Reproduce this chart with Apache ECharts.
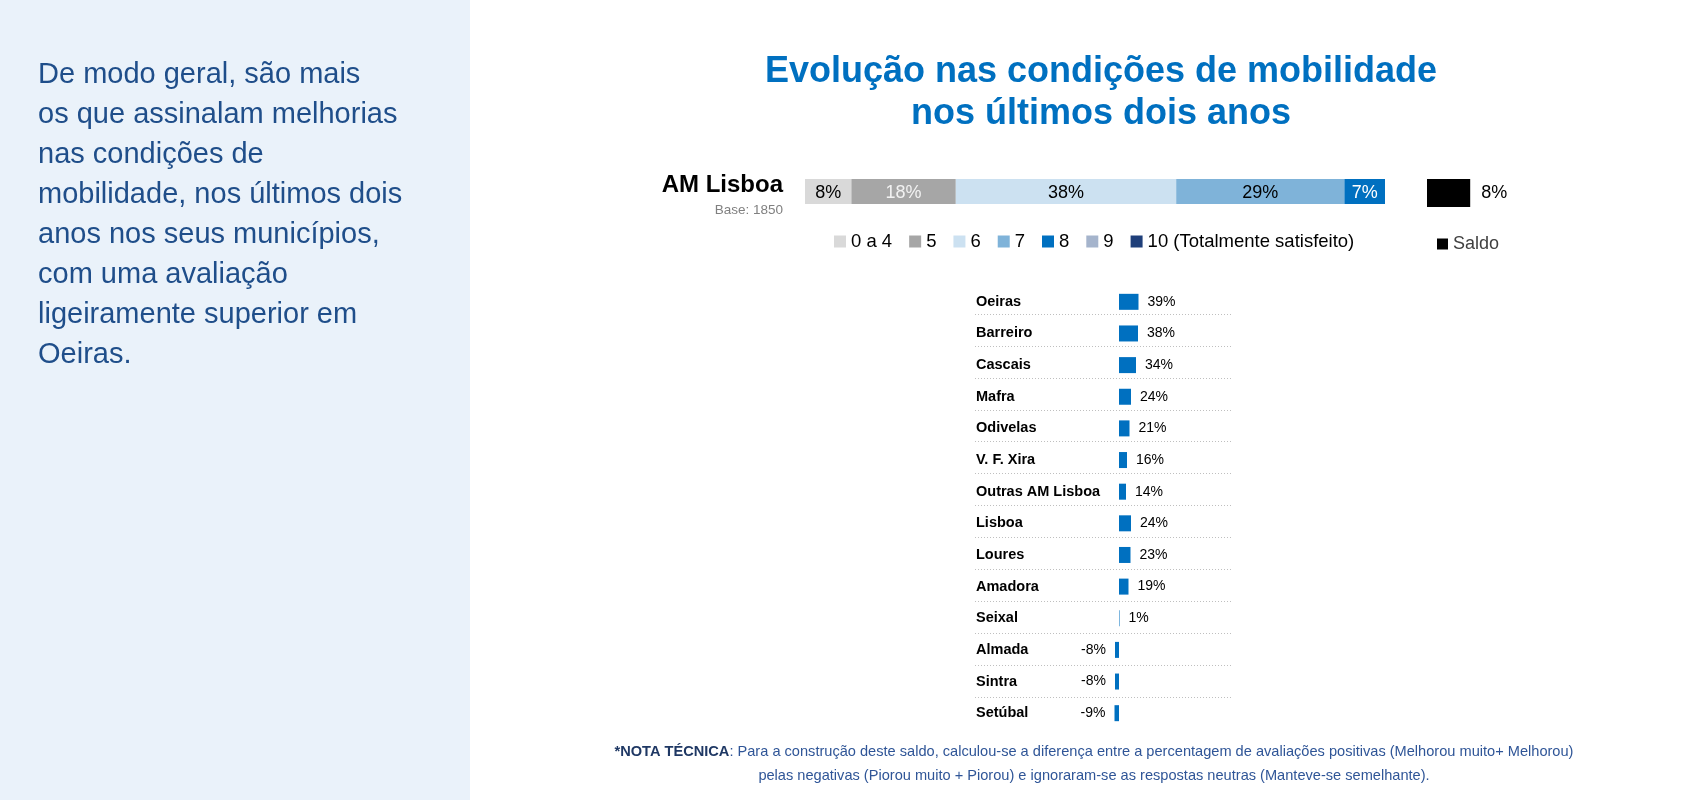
<!DOCTYPE html>
<html><head><meta charset="utf-8">
<script src="https://cdn.jsdelivr.net/npm/echarts@6/dist/echarts.min.js"></script>
<style>html,body{margin:0;padding:0;background:#fff}#c{width:1697px;height:800px}</style>
</head><body><div id="c"></div>
<script>
const chartTitle = 'Evolução nas condições de mobilidade\nnos últimos dois anos';
const sideText = 'De modo geral, são mais\nos que assinalam melhorias\nnas condições de\nmobilidade, nos últimos dois\nanos nos seus municípios,\ncom uma avaliação\nligeiramente superior em\nOeiras.';
const regionName = 'AM Lisboa';
const regionBase = 'Base: 1850';
const scoreCategories = ['0 a 4', '5', '6', '7', '8', '9', '10 (Totalmente satisfeito)'];
const scoreValues = [8, 18, 38, 29, 7, 0, 0];
const saldoName = 'Saldo';
const saldoRegion = 8;
const municipalities = ['Oeiras', 'Barreiro', 'Cascais', 'Mafra', 'Odivelas', 'V. F. Xira', 'Outras AM Lisboa', 'Lisboa', 'Loures', 'Amadora', 'Seixal', 'Almada', 'Sintra', 'Setúbal'];
const saldoMunicipalities = [39, 38, 34, 24, 21, 16, 14, 24, 23, 19, 1, -8, -8, -9];
const noteBold = '*NOTA TÉCNICA';
const noteLine1 = ': Para a construção deste saldo, calculou-se a diferença entre a percentagem de avaliações positivas (Melhorou muito+ Melhorou)';
const noteLine2 = 'pelas negativas (Piorou muito + Piorou) e ignoraram-se as respostas neutras (Manteve-se semelhante).';

const FONT = '"Liberation Sans", Arial, sans-serif';
const scoreColors = ['#D9D9D9', '#A6A6A6', '#CCE1F1', '#7FB3D9', '#0070C0', '#A5B4CC', '#1F3F7A'];
const scoreLabelColors = ['#000', '#F2F2F2', '#000', '#000', '#FFF', '#000', '#FFF'];

const chart = echarts.init(document.getElementById('c'));

const series = scoreCategories.map((name, i) => ({
  name, type: 'bar', stack: 'dist', xAxisIndex: 0, yAxisIndex: 0, barWidth: 25,
  data: [scoreValues[i]],
  itemStyle: { color: scoreColors[i] },
  label: { show: scoreValues[i] > 0, position: 'inside', offset: [0, 2], formatter: '{c}%', fontSize: 18, fontFamily: FONT, color: scoreLabelColors[i] }
}));
series.push({
  name: saldoName, type: 'bar', xAxisIndex: 1, yAxisIndex: 1, barWidth: 28,
  data: [saldoRegion], itemStyle: { color: '#000' },
  label: { show: true, position: 'right', distance: 11, formatter: '{c}%', fontSize: 18, fontFamily: FONT, color: '#000' }
});
series.push({
  name: 'municipios', type: 'bar', xAxisIndex: 2, yAxisIndex: 2, barWidth: 16,
  data: saldoMunicipalities.map(v => ({ value: v, label: { position: v < 0 ? 'left' : 'right' } })),
  itemStyle: { color: '#0070C0' },
  label: { show: true, distance: 9, formatter: '{c}%', fontSize: 14, fontFamily: FONT, color: '#000' }
});

const option = {
  animation: false,
  backgroundColor: '#FFFFFF',
  textStyle: { fontFamily: FONT },
  graphic: [
    { type: 'rect', shape: { x: 0, y: 0, width: 470, height: 800 }, style: { fill: '#EAF2FA' }, z: -10 },
    { type: 'text', x: 38, y: 55, style: { text: sideText, fontSize: 29, fontFamily: FONT, fill: '#1F4E8A', lineHeight: 40, align: 'left', verticalAlign: 'top' } },
    { type: 'text', x: 1101, y: 51, style: { text: chartTitle, fontSize: 36, fontWeight: 'bold', fontFamily: FONT, fill: '#0070C0', lineHeight: 42, align: 'center', verticalAlign: 'top' } },
    { type: 'text', x: 1094, y: 740, style: {
      text: '{b|' + noteBold + '}{r|' + noteLine1 + '}\n{r|' + noteLine2 + '}',
      align: 'center', verticalAlign: 'top', fontFamily: FONT, fontSize: 14.6, lineHeight: 24,
      rich: {
        b: { fontWeight: 'bold', fill: '#1F3864', fontSize: 14.6, fontFamily: FONT, lineHeight: 24 },
        r: { fill: '#2F5597', fontSize: 14.6, fontFamily: FONT, lineHeight: 24 }
      } } }
  ],
  legend: [
    { left: 834, top: 232, padding: 0, itemWidth: 12, itemHeight: 12, itemGap: 17, icon: 'rect', selectedMode: false,
      data: scoreCategories, textStyle: { fontSize: 18.5, color: '#000', fontFamily: FONT } },
    { left: 1437, top: 235, padding: 0, itemWidth: 11, itemHeight: 11, icon: 'rect', selectedMode: false,
      data: [saldoName], textStyle: { fontSize: 18, color: '#404040', fontFamily: FONT } }
  ],
  grid: [
    { left: 805, top: 179, width: 580, height: 25 },
    { left: 1427, top: 179, width: 54, height: 28 },
    { left: 1099, top: 286, width: 40, height: 443 },
    { left: 975, top: 314, width: 257, height: 383 }
  ],
  xAxis: [
    { gridIndex: 0, type: 'value', min: 0, max: 100, show: false },
    { gridIndex: 1, type: 'value', min: 0, max: 10, show: false },
    { gridIndex: 2, type: 'value', min: -40, max: 40, show: false },
    { gridIndex: 3, type: 'value', min: 0, max: 1, show: false }
  ],
  yAxis: [
    { gridIndex: 0, type: 'category', data: [regionName], axisLine: { show: false }, axisTick: { show: false },
      axisLabel: { margin: 22, padding: [7, 0, 0, 0], formatter: () => '{a|' + regionName + '}\n{b|' + regionBase + '}',
        rich: { a: { fontSize: 24, fontWeight: 'bold', color: '#000', lineHeight: 30, align: 'right', fontFamily: FONT },
                b: { fontSize: 13.5, color: '#808080', lineHeight: 19, align: 'right', fontFamily: FONT } } } },
    { gridIndex: 1, type: 'category', data: [saldoName], show: false },
    { gridIndex: 2, type: 'category', inverse: true, data: municipalities, axisLine: { show: false }, axisTick: { show: false },
      axisLabel: { align: 'left', margin: 123, fontSize: 14.5, fontWeight: 'bold', color: '#000', fontFamily: FONT } },
    { gridIndex: 3, type: 'value', min: 1, max: 13, interval: 1, axisLine: { show: false }, axisTick: { show: false },
      axisLabel: { show: false }, splitLine: { show: true, lineStyle: { color: '#BFBFBF', type: [1, 2], width: 1 } } }
  ],
  series
};
chart.setOption(option);
</script>
</body></html>
